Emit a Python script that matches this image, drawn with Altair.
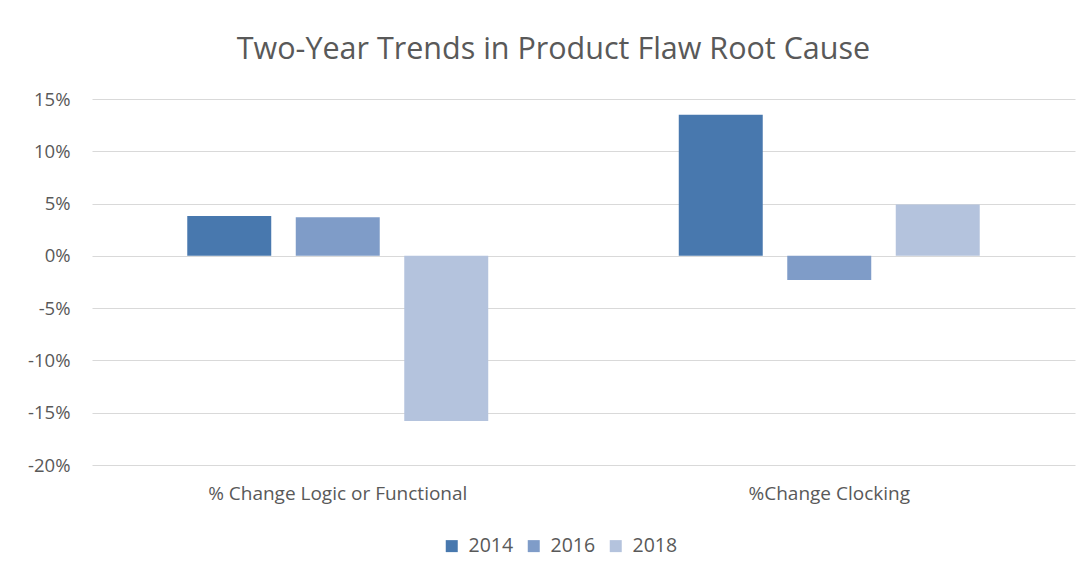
import altair as alt
import pandas as pd

categories = ["% Change Logic or Functional", "%Change Clocking"]
years = ["2014", "2016", "2018"]
values_2014 = [3.8, 13.5]
values_2016 = [3.7, -2.3]
values_2018 = [-15.8, 4.9]
colors = ["#4878AE", "#7F9CC8", "#B4C3DD"]

rows = []
for i, c in enumerate(categories):
    for y, vals in zip(years, [values_2014, values_2016, values_2018]):
        rows.append({"category": c, "year": y, "value": vals[i]})
df = pd.DataFrame(rows)

FONT = "Open Sans"
TEXT = "#595959"

chart = alt.Chart(df).mark_bar().encode(
    x=alt.X("category:N", sort=categories, title=None,
            scale=alt.Scale(paddingInner=0, paddingOuter=0),
            axis=alt.Axis(labelAngle=0, domain=False, ticks=False, labelPadding=19,
                          labelFontSize=19, labelColor=TEXT, labelFont=FONT,
                          labelLimit=0)),
    xOffset=alt.XOffset("year:N", sort=years,
                        scale=alt.Scale(paddingInner=0.226, paddingOuter=0.878)),
    y=alt.Y("value:Q", title=None,
            scale=alt.Scale(domain=[-20, 15], nice=False),
            axis=alt.Axis(values=[-20, -15, -10, -5, 0, 5, 10, 15],
                          labelExpr="datum.value + '%'",
                          domain=False, ticks=False, labelPadding=22,
                          labelFontSize=18.5, labelColor=TEXT, labelFont=FONT,
                          gridColor="#D9D9D9", gridWidth=1.2)),
    color=alt.Color("year:N", sort=years,
                    scale=alt.Scale(domain=years, range=colors),
                    legend=alt.Legend(title=None, orient="none", direction="horizontal",
                                      legendX=350, legendY=437,
                                      symbolType="square", symbolSize=144,
                                      symbolStrokeWidth=0,
                                      labelFontSize=19.5, labelColor=TEXT, labelFont=FONT,
                                      columnPadding=10, labelOffset=7)),
).properties(
    width=983,
    height=366,
    title=alt.TitleParams("Two-Year Trends in Product Flaw Root Cause",
                          fontSize=30.5, font=FONT, fontWeight="normal",
                          color=TEXT, anchor="middle", offset=25, dx=-30),
    autosize=alt.AutoSizeParams(type="none"),
    padding={"left": 92, "top": 99, "right": 14, "bottom": 114},
).configure(background="white").configure_view(strokeWidth=0)

chart.save("out.html", embed_options={"renderer": "svg", "actions": False})
